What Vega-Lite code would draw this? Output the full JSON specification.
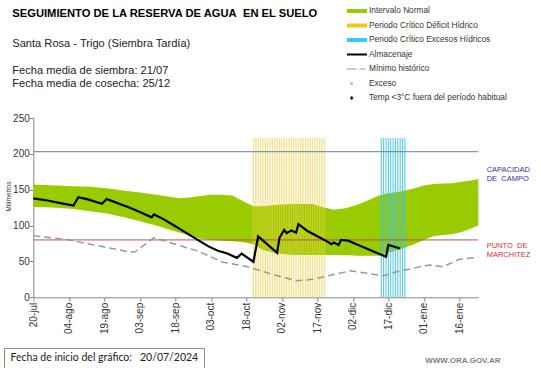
{
  "$schema": "https://vega.github.io/schema/vega-lite/v6.json",
  "width": 445,
  "height": 179.3,
  "autosize": "none",
  "padding": {"left": 33.3, "top": 118, "right": 62.7, "bottom": 70.7},
  "background": "white",
  "config": {"view": {"stroke": null}, "font": "Liberation Sans"},
  "title": {
    "text": "SEGUIMIENTO DE LA RESERVA DE AGUA\u00a0 EN EL SUELO",
    "subtitle": ["Santa Rosa - Trigo (Siembra Tardía)", "\u2800", "Fecha media de siembra: 21/07", "Fecha media de cosecha: 25/12"],
    "anchor": "start", "frame": "group", "orient": "top",
    "offset": 0, "dx": -21, "dy": 83,
    "font": "Liberation Sans", "fontSize": 11.2, "fontWeight": "bold", "color": "#000000",
    "subtitleFont": "Liberation Sans", "subtitleFontSize": 11.1, "subtitleColor": "#222222",
    "subtitleLineHeight": 13.2, "subtitlePadding": 19
  },
  "datasets": {
    "banda": [
      {"fecha": "2024/07/20", "max": 157, "min": 126},
      {"fecha": "2024/07/25", "max": 156.5, "min": 125.5},
      {"fecha": "2024/07/30", "max": 156, "min": 125},
      {"fecha": "2024/08/06", "max": 155, "min": 123},
      {"fecha": "2024/08/13", "max": 154, "min": 120},
      {"fecha": "2024/08/20", "max": 152, "min": 117},
      {"fecha": "2024/08/27", "max": 149, "min": 112},
      {"fecha": "2024/09/03", "max": 146, "min": 106},
      {"fecha": "2024/09/10", "max": 143, "min": 100},
      {"fecha": "2024/09/16", "max": 140, "min": 94},
      {"fecha": "2024/09/20", "max": 138, "min": 90},
      {"fecha": "2024/09/24", "max": 139, "min": 86},
      {"fecha": "2024/09/28", "max": 141, "min": 82},
      {"fecha": "2024/10/03", "max": 143, "min": 80},
      {"fecha": "2024/10/08", "max": 143, "min": 79},
      {"fecha": "2024/10/12", "max": 142, "min": 78},
      {"fecha": "2024/10/16", "max": 135, "min": 77},
      {"fecha": "2024/10/21", "max": 127, "min": 74},
      {"fecha": "2024/10/25", "max": 127, "min": 66},
      {"fecha": "2024/10/31", "max": 129, "min": 61},
      {"fecha": "2024/11/07", "max": 130, "min": 59},
      {"fecha": "2024/11/15", "max": 130, "min": 59},
      {"fecha": "2024/11/19", "max": 126, "min": 59},
      {"fecha": "2024/11/24", "max": 122, "min": 59},
      {"fecha": "2024/11/29", "max": 124, "min": 59},
      {"fecha": "2024/12/04", "max": 129, "min": 58},
      {"fecha": "2024/12/09", "max": 136, "min": 58},
      {"fecha": "2024/12/13", "max": 142, "min": 58},
      {"fecha": "2024/12/17", "max": 145, "min": 62},
      {"fecha": "2024/12/22", "max": 147.5, "min": 67},
      {"fecha": "2024/12/27", "max": 151, "min": 73},
      {"fecha": "2025/01/01", "max": 156, "min": 80},
      {"fecha": "2025/01/05", "max": 158, "min": 85},
      {"fecha": "2025/01/09", "max": 158.5, "min": 87},
      {"fecha": "2025/01/13", "max": 159, "min": 88},
      {"fecha": "2025/01/17", "max": 161, "min": 91},
      {"fecha": "2025/01/21", "max": 163, "min": 96},
      {"fecha": "2025/01/24", "max": 165, "min": 100}
    ],
    "almacenaje": [
      {"fecha": "2024/07/20", "mm": 138},
      {"fecha": "2024/07/26", "mm": 135},
      {"fecha": "2024/08/01", "mm": 131},
      {"fecha": "2024/08/06", "mm": 128},
      {"fecha": "2024/08/08", "mm": 139.5},
      {"fecha": "2024/08/12", "mm": 136.5},
      {"fecha": "2024/08/18", "mm": 130.5},
      {"fecha": "2024/08/20", "mm": 137},
      {"fecha": "2024/08/24", "mm": 132},
      {"fecha": "2024/08/29", "mm": 126},
      {"fecha": "2024/09/03", "mm": 119},
      {"fecha": "2024/09/08", "mm": 111.5},
      {"fecha": "2024/09/09", "mm": 115.5},
      {"fecha": "2024/09/13", "mm": 109},
      {"fecha": "2024/09/18", "mm": 99},
      {"fecha": "2024/09/20", "mm": 95},
      {"fecha": "2024/09/24", "mm": 87},
      {"fecha": "2024/09/28", "mm": 79},
      {"fecha": "2024/10/02", "mm": 71},
      {"fecha": "2024/10/06", "mm": 65},
      {"fecha": "2024/10/10", "mm": 61},
      {"fecha": "2024/10/14", "mm": 55},
      {"fecha": "2024/10/16", "mm": 61},
      {"fecha": "2024/10/21", "mm": 49.5},
      {"fecha": "2024/10/23", "mm": 85},
      {"fecha": "2024/10/31", "mm": 62},
      {"fecha": "2024/11/01", "mm": 83},
      {"fecha": "2024/11/03", "mm": 94},
      {"fecha": "2024/11/04", "mm": 89.5},
      {"fecha": "2024/11/06", "mm": 93},
      {"fecha": "2024/11/08", "mm": 90},
      {"fecha": "2024/11/09", "mm": 102},
      {"fecha": "2024/11/13", "mm": 92},
      {"fecha": "2024/11/17", "mm": 85},
      {"fecha": "2024/11/20", "mm": 80},
      {"fecha": "2024/11/23", "mm": 74},
      {"fecha": "2024/11/24", "mm": 76.5},
      {"fecha": "2024/11/26", "mm": 73},
      {"fecha": "2024/11/27", "mm": 80},
      {"fecha": "2024/11/30", "mm": 79},
      {"fecha": "2024/12/05", "mm": 72},
      {"fecha": "2024/12/10", "mm": 65},
      {"fecha": "2024/12/16", "mm": 56.5},
      {"fecha": "2024/12/17", "mm": 73},
      {"fecha": "2024/12/22", "mm": 68}
    ],
    "minimo": [
      {"fecha": "2024/07/20", "mm": 86},
      {"fecha": "2024/08/03", "mm": 80.5},
      {"fecha": "2024/08/30", "mm": 63},
      {"fecha": "2024/09/01", "mm": 63.5},
      {"fecha": "2024/09/09", "mm": 83},
      {"fecha": "2024/09/20", "mm": 72},
      {"fecha": "2024/09/28", "mm": 64},
      {"fecha": "2024/10/08", "mm": 49},
      {"fecha": "2024/10/18", "mm": 43},
      {"fecha": "2024/10/28", "mm": 33},
      {"fecha": "2024/11/08", "mm": 23},
      {"fecha": "2024/11/15", "mm": 25},
      {"fecha": "2024/11/23", "mm": 31},
      {"fecha": "2024/12/01", "mm": 37},
      {"fecha": "2024/12/07", "mm": 34},
      {"fecha": "2024/12/15", "mm": 30},
      {"fecha": "2024/12/22", "mm": 37},
      {"fecha": "2024/12/27", "mm": 40},
      {"fecha": "2025/01/01", "mm": 44},
      {"fecha": "2025/01/04", "mm": 45},
      {"fecha": "2025/01/09", "mm": 42.5},
      {"fecha": "2025/01/16", "mm": 53},
      {"fecha": "2025/01/24", "mm": 56}
    ],
    "deficit": [
      {"fecha": "2024/10/21"}, {"fecha": "2024/10/22"}, {"fecha": "2024/10/23"}, {"fecha": "2024/10/24"},
      {"fecha": "2024/10/25"}, {"fecha": "2024/10/26"}, {"fecha": "2024/10/27"}, {"fecha": "2024/10/28"},
      {"fecha": "2024/10/29"}, {"fecha": "2024/10/30"}, {"fecha": "2024/10/31"}, {"fecha": "2024/11/01"},
      {"fecha": "2024/11/02"}, {"fecha": "2024/11/03"}, {"fecha": "2024/11/04"}, {"fecha": "2024/11/05"},
      {"fecha": "2024/11/06"}, {"fecha": "2024/11/07"}, {"fecha": "2024/11/08"}, {"fecha": "2024/11/09"},
      {"fecha": "2024/11/10"}, {"fecha": "2024/11/11"}, {"fecha": "2024/11/12"}, {"fecha": "2024/11/13"},
      {"fecha": "2024/11/14"}, {"fecha": "2024/11/15"}, {"fecha": "2024/11/16"}, {"fecha": "2024/11/17"},
      {"fecha": "2024/11/18"}, {"fecha": "2024/11/19"}, {"fecha": "2024/11/20"}
    ],
    "excesos": [
      {"fecha": "2024/12/14"}, {"fecha": "2024/12/15"}, {"fecha": "2024/12/16"}, {"fecha": "2024/12/17"},
      {"fecha": "2024/12/18"}, {"fecha": "2024/12/19"}, {"fecha": "2024/12/20"}, {"fecha": "2024/12/21"},
      {"fecha": "2024/12/22"}, {"fecha": "2024/12/23"}, {"fecha": "2024/12/24"}
    ],
    "series": [
      {"serie": "Intervalo Normal"},
      {"serie": "Periodo Crítico Déficit Hídrico"},
      {"serie": "Periodo Crítico Excesos Hídricos"},
      {"serie": "Almacenaje"},
      {"serie": "Mínimo histórico"},
      {"serie": "Exceso"},
      {"serie": "Temp <3°C fuera del período habitual"}
    ]
  },
  "layer": [
    {
      "data": {"name": "banda"},
      "mark": {"type": "area", "color": "#99cc00"},
      "encoding": {
        "x": {
          "field": "fecha", "type": "temporal",
          "scale": {"domain": [{"year": 2024, "month": 7, "date": 20}, {"year": 2025, "month": 1, "date": 24}], "nice": false},
          "axis": {
            "values": [
              {"year": 2024, "month": 7, "date": 20}, {"year": 2024, "month": 8, "date": 4}, {"year": 2024, "month": 8, "date": 19},
              {"year": 2024, "month": 9, "date": 3}, {"year": 2024, "month": 9, "date": 18}, {"year": 2024, "month": 10, "date": 3},
              {"year": 2024, "month": 10, "date": 18}, {"year": 2024, "month": 11, "date": 2}, {"year": 2024, "month": 11, "date": 17},
              {"year": 2024, "month": 12, "date": 2}, {"year": 2024, "month": 12, "date": 17}, {"year": 2025, "month": 1, "date": 1},
              {"year": 2025, "month": 1, "date": 16}
            ],
            "tickCount": 40,
            "labelExpr": "timeFormat(datum.value, '%d') + '-' + ['ene','feb','mar','abr','may','jun','jul','ago','sep','oct','nov','dic'][month(datum.value)]",
            "labelAngle": -90, "labelFontSize": 10, "labelColor": "#333333", "labelPadding": 1,
            "labelOverlap": false, "labelSeparation": 0, "labelBound": false, "labelFlush": false,
            "grid": false, "domainColor": "#868686", "tickColor": "#868686", "tickSize": 4,
            "title": "WWW.ORA.GOV.AR", "titleAlign": "right", "titleAnchor": null, "titleX": 466.7, "titleY": 62.7,
            "titleBaseline": "middle", "titleFontSize": 8, "titleFontWeight": "bold", "titleColor": "#7f7f7f"
          }
        },
        "y": {
          "field": "max", "type": "quantitative",
          "scale": {"domain": [0, 250], "nice": false},
          "axis": {
            "values": [0, 50, 100, 150, 200, 250], "tickCount": 20, "grid": false,
            "labelOverlap": false, "labelSeparation": 0, "labelFlush": false,
            "labelFontSize": 10, "labelColor": "#333333", "labelPadding": 0,
            "domainColor": "#868686", "tickColor": "#868686", "tickSize": 4,
            "title": "Milímetros", "titleFontSize": 6.5, "titleFontWeight": "normal", "titleColor": "#333333",
            "titlePadding": 1.5, "titleY": 78
          }
        },
        "y2": {"field": "min"}
      }
    },
    {
      "data": {"name": "deficit"},
      "mark": {"type": "rule", "color": "#ecd048", "strokeWidth": 1.4, "opacity": 0.6},
      "encoding": {
        "x": {"field": "fecha", "type": "temporal"},
        "y": {"datum": 0},
        "y2": {"datum": 222}
      }
    },
    {
      "data": {"name": "excesos"},
      "mark": {"type": "rule", "color": "#3cc2e2", "strokeWidth": 1.1, "opacity": 0.85},
      "encoding": {
        "x": {"field": "fecha", "type": "temporal"},
        "y": {"datum": 0},
        "y2": {"datum": 222}
      }
    },
    {
      "data": {"values": [{"umbral": "CAPACIDAD\nDE\u00a0 CAMPO", "mm": 203}]},
      "layer": [
        {
          "mark": {"type": "rule", "color": "#5b7fbf", "strokeWidth": 1},
          "encoding": {"y": {"field": "mm", "type": "quantitative"}}
        },
        {
          "mark": {"type": "text", "align": "left", "baseline": "top", "dx": 8.4, "dy": 14, "lineBreak": "\n", "fontSize": 7.5, "color": "#333399", "lineHeight": 9},
          "encoding": {
            "x": {"datum": {"year": 2025, "month": 1, "date": 24}, "type": "temporal"},
            "y": {"field": "mm", "type": "quantitative"},
            "text": {"field": "umbral"}
          }
        }
      ]
    },
    {
      "data": {"values": [{"umbral": "PUNTO\u00a0 DE\nMARCHITEZ", "mm": 80}]},
      "layer": [
        {
          "mark": {"type": "rule", "color": "#c0504d", "strokeWidth": 1},
          "encoding": {"y": {"field": "mm", "type": "quantitative"}}
        },
        {
          "mark": {"type": "text", "align": "left", "baseline": "top", "dx": 8.4, "dy": 2, "lineBreak": "\n", "fontSize": 7.5, "color": "#cc3333", "lineHeight": 9},
          "encoding": {
            "x": {"datum": {"year": 2025, "month": 1, "date": 24}, "type": "temporal"},
            "y": {"field": "mm", "type": "quantitative"},
            "text": {"field": "umbral"}
          }
        }
      ]
    },
    {
      "data": {"name": "minimo"},
      "mark": {"type": "line", "color": "#999999", "strokeWidth": 1.5, "strokeDash": [7, 4]},
      "encoding": {
        "x": {"field": "fecha", "type": "temporal"},
        "y": {"field": "mm", "type": "quantitative"}
      }
    },
    {
      "data": {"name": "almacenaje"},
      "mark": {"type": "line", "color": "#000000", "strokeWidth": 2.2},
      "encoding": {
        "x": {"field": "fecha", "type": "temporal"},
        "y": {"field": "mm", "type": "quantitative"}
      }
    },
    {
      "data": {"name": "series"},
      "transform": [{"filter": "false"}],
      "mark": {"type": "point", "filled": true, "opacity": 1},
      "encoding": {
        "color": {
          "field": "serie", "type": "nominal",
          "scale": {
            "domain": ["Intervalo Normal", "Periodo Crítico Déficit Hídrico", "Periodo Crítico Excesos Hídricos", "Almacenaje", "Mínimo histórico", "Exceso", "Temp <3°C fuera del período habitual"],
            "range": ["#99cc00", "#f5c518", "#33ccee", "#000000", "#999999", "#33bbee", "#2222aa"]
          },
          "legend": {"title": null, "orient": "none", "legendX": 318.7, "legendY": -112, "padding": 0, "symbolSize": 100, "rowPadding": 5.5, "labelOffset": 7, "labelFontSize": 8.3, "labelFont": "Liberation Sans", "labelColor": "#333333", "labelLimit": 300, "symbolStrokeWidth": 0, "symbolOpacity": 1}
        },
        "shape": {
          "field": "serie", "type": "nominal",
          "scale": {
            "domain": ["Intervalo Normal", "Periodo Crítico Déficit Hídrico", "Periodo Crítico Excesos Hídricos", "Almacenaje", "Mínimo histórico", "Exceso", "Temp <3°C fuera del período habitual"],
            "range": [
              "M-2,-0.4H2V0.4H-2Z",
              "M-2,-0.4H2V0.4H-2Z",
              "M-2,-0.4H2V0.4H-2Z",
              "M-2,-0.2H2V0.2H-2Z",
              "M-2,-0.12H-0.1V0.12H-2Z M0.5,-0.12H1.6V0.12H0.5Z",
              "M-1.26,-0.2H-0.86V0.2H-1.26Z",
              "M-1.06,-0.45L-0.66,0L-1.06,0.45L-1.46,0Z"
            ]
          },
          "legend": {"title": null, "orient": "none", "legendX": 318.7, "legendY": -112, "padding": 0, "symbolSize": 100, "rowPadding": 5.5, "labelOffset": 7, "labelFontSize": 8.3, "labelFont": "Liberation Sans", "labelColor": "#333333", "labelLimit": 300, "symbolStrokeWidth": 0, "symbolOpacity": 1}
        },
        "strokeDash": {
          "field": "nota", "type": "nominal",
          "scale": {"domain": ["Fecha de inicio del gráfico:\u00a0\u00a0 20/07/2024"]},
          "legend": {"title": null, "orient": "none", "legendX": -29.3, "legendY": 230, "padding": 5, "strokeColor": "#a08585", "fillColor": "#ffffff", "symbolSize": 0, "symbolOpacity": 0, "symbolStrokeWidth": 0, "labelOffset": -9, "labelFont": "Lato", "labelFontSize": 10.5, "labelColor": "#222222", "labelLimit": 400}
        }
      }
    }
  ]
}
